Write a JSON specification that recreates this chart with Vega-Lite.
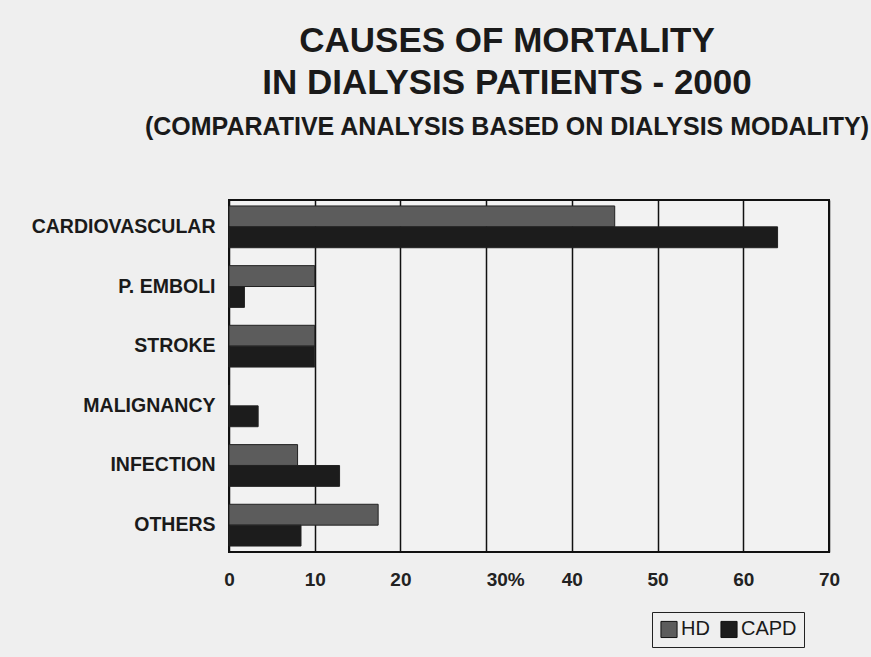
{
  "$schema": "https://vega.github.io/schema/vega-lite/v6.json",
  "width": 600,
  "height": 352,
  "autosize": {"type": "none"},
  "padding": {"left": 229, "top": 200, "right": 42, "bottom": 105},
  "background": "#efefef",
  "title": {
    "text": ["CAUSES OF MORTALITY", "IN DIALYSIS PATIENTS - 2000"],
    "subtitle": "(COMPARATIVE ANALYSIS BASED ON DIALYSIS MODALITY)",
    "anchor": "middle",
    "frame": "group",
    "dx": -22,
    "font": "Liberation Sans",
    "fontSize": 35,
    "fontWeight": "bold",
    "color": "#1a1a1a",
    "lineHeight": 42,
    "subtitleFont": "Liberation Sans",
    "subtitleFontSize": 25,
    "subtitleFontWeight": "bold",
    "subtitleColor": "#1a1a1a",
    "subtitlePadding": 14,
    "offset": 60
  },
  "data": {
    "values": [
      {"cause": "CARDIOVASCULAR", "modality": "HD", "pct": 45},
      {"cause": "CARDIOVASCULAR", "modality": "CAPD", "pct": 64},
      {"cause": "P. EMBOLI", "modality": "HD", "pct": 10},
      {"cause": "P. EMBOLI", "modality": "CAPD", "pct": 1.8},
      {"cause": "STROKE", "modality": "HD", "pct": 10},
      {"cause": "STROKE", "modality": "CAPD", "pct": 10},
      {"cause": "MALIGNANCY", "modality": "HD", "pct": 0},
      {"cause": "MALIGNANCY", "modality": "CAPD", "pct": 3.4},
      {"cause": "INFECTION", "modality": "HD", "pct": 8},
      {"cause": "INFECTION", "modality": "CAPD", "pct": 12.9},
      {"cause": "OTHERS", "modality": "HD", "pct": 17.4},
      {"cause": "OTHERS", "modality": "CAPD", "pct": 8.4}
    ]
  },
  "mark": {"type": "bar", "stroke": "#222222", "strokeWidth": 1},
  "encoding": {
    "y": {
      "field": "cause",
      "type": "nominal",
      "sort": null,
      "scale": {"paddingInner": 0.3, "paddingOuter": 0.1},
      "axis": {
        "title": null,
        "ticks": false,
        "domain": false,
        "labelPadding": 14,
        "labelLimit": 0,
        "labelFont": "Liberation Sans",
        "labelFontWeight": "bold",
        "labelFontSize": 19.5,
        "labelColor": "#1a1a1a"
      }
    },
    "yOffset": {
      "field": "modality",
      "type": "nominal",
      "sort": ["HD", "CAPD"]
    },
    "x": {
      "field": "pct",
      "type": "quantitative",
      "scale": {"domain": [0, 70], "nice": false},
      "axis": {
        "title": null,
        "values": [0, 10, 20, 30, 40, 50, 60, 70],
        "ticks": false,
        "domain": false,
        "grid": true,
        "gridColor": "#111111",
        "gridWidth": 1.5,
        "gridOpacity": 1,
        "labelPadding": 18,
        "labelFont": "Liberation Sans",
        "labelFontWeight": "bold",
        "labelFontSize": 19,
        "labelColor": "#222222",
        "labelExpr": "datum.value == 30 ? '30%' : datum.label",
        "labelAlign": {"condition": {"test": "datum.value == 30", "value": "left"}, "value": "center"}
      }
    },
    "color": {
      "field": "modality",
      "type": "nominal",
      "sort": ["HD", "CAPD"],
      "scale": {"domain": ["HD", "CAPD"], "range": ["#5c5c5c", "#1c1c1c"]},
      "legend": {
        "title": null,
        "orient": "none",
        "legendX": 423,
        "legendY": 412,
        "direction": "horizontal",
        "symbolType": "square",
        "symbolSize": 260,
        "symbolStrokeColor": "#111111",
        "symbolStrokeWidth": 1,
        "labelFont": "Liberation Sans",
        "labelFontSize": 20,
        "labelColor": "#1a1a1a",
        "labelOffset": 2,
        "columnPadding": 8,
        "strokeColor": "#222222",
        "padding": 7,
        "fillColor": "#efefef"
      }
    }
  },
  "config": {
    "view": {"stroke": "#111111", "strokeWidth": 2, "fill": "#f2f2f2"}
  }
}
